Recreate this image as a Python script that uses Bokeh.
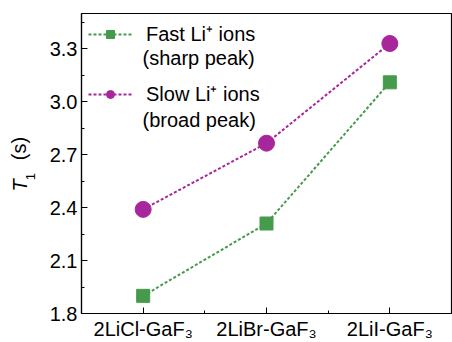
import math
from bokeh.plotting import figure
from bokeh.layouts import row
from bokeh.models import FixedTicker, Legend, LegendItem, Label, Range1d
from bokeh.core.properties import value
from bokeh.embed import file_html
from bokeh.resources import INLINE

categories = ["2LiCl-GaF\u2083", "2LiBr-GaF\u2083", "2LiI-GaF\u2083"]
fast_t1 = [1.90, 2.31, 3.11]
slow_t1 = [2.39, 2.765, 3.33]
y_ticks = [1.8, 2.1, 2.4, 2.7, 3.0, 3.3]
y_minor = [1.95, 2.25, 2.55, 2.85, 3.15, 3.45]
legend_first = ["Fast Li\u207a ions", "Slow Li\u207a ions"]
legend_second = ["(sharp peak)", "(broad peak)"]
ytitle_parts = ["T", "1", "(s)"]

GREEN = "#469a4c"
PURPLE = "#a8269c"
FONT = "Liberation Sans"
LW = 40  # width of the strip holding the y-axis title

# ---- strip with the y-axis title (T italic, subscript 1, (s)) ----
t = figure(width=LW, height=342, output_backend="svg", toolbar_location=None,
           x_range=Range1d(0, LW), y_range=Range1d(0, 342),
           x_axis_location=None, y_axis_location=None,
           min_border=0, min_border_left=0, min_border_right=0,
           min_border_top=0, min_border_bottom=0)
t.grid.visible = False
t.outline_line_color = None
t.text(x=[19], y=[146], text=[ytitle_parts[0]], angle=math.pi / 2,
       text_font=value(FONT), text_font_style=value("italic"), text_font_size=value("20px"),
       text_color="black", text_align="center", text_baseline="middle")
t.text(x=[30], y=[156], text=[ytitle_parts[1]], angle=math.pi / 2,
       text_font=value(FONT), text_font_size=value("13px"),
       text_color="black", text_align="center", text_baseline="middle")
t.text(x=[18], y=[188], text=[ytitle_parts[2]], angle=math.pi / 2,
       text_font=value(FONT), text_font_size=value("20px"),
       text_color="black", text_align="center", text_baseline="middle")

# ---- main chart ----
xs = list(range(len(categories)))

p = figure(width=452 - LW, height=342, output_backend="svg", toolbar_location=None,
           x_range=Range1d(-0.5, 2.5), y_range=Range1d(1.8, 3.5),
           min_border_left=81 - LW, min_border_top=13, min_border_bottom=29, min_border_right=1)
p.grid.visible = False
p.outline_line_color = "black"
p.outline_line_width = 1.2
p.background_fill_color = "white"
p.border_fill_color = "white"

p.xaxis.ticker = FixedTicker(ticks=xs, minor_ticks=[0.5, 1.5])
p.xaxis.major_label_overrides = {i: c for i, c in zip(xs, categories)}
p.yaxis.ticker = FixedTicker(ticks=y_ticks, minor_ticks=y_minor)
p.yaxis.major_label_overrides = {tk: f"{tk:.1f}" for tk in y_ticks}

for ax in (p.xaxis[0], p.yaxis[0]):
    ax.axis_line_color = "black"
    ax.axis_line_width = 1.2
    ax.major_tick_line_color = "black"
    ax.minor_tick_line_color = "black"
    ax.major_tick_in = 6
    ax.major_tick_out = 0
    ax.minor_tick_in = 3
    ax.minor_tick_out = 0
    ax.major_label_text_font = FONT
    ax.major_label_text_font_size = "20px"
    ax.major_label_text_color = "black"
    ax.major_label_standoff = 4

lf = p.line(xs, fast_t1, line_color=GREEN, line_width=2, line_dash="3 2")
mf = p.scatter(xs, fast_t1, marker="square", size=13, fill_color=GREEN, line_color=GREEN)
ls = p.line(xs, slow_t1, line_color=PURPLE, line_width=2, line_dash="3 2")
ms = p.scatter(xs, slow_t1, marker="circle", size=16, fill_color=PURPLE, line_color=PURPLE)

legend = Legend(items=[LegendItem(label=legend_first[0], renderers=[lf, mf]),
                       LegendItem(label=legend_first[1], renderers=[ls, ms])],
                location="top_left", margin=7, padding=0,
                border_line_color=None, background_fill_alpha=0,
                label_text_font=FONT, label_text_font_size="20px",
                label_text_color="black", label_height=24,
                label_standoff=14, glyph_width=44, glyph_height=20, spacing=33)
p.add_layout(legend)

# second lines of the legend entries (screen units relative to the frame)
for i, txt in enumerate(legend_second):
    p.add_layout(Label(x=61, y=256 - 62 * i, x_units="screen", y_units="screen",
                       text=txt, text_font=FONT, text_font_size="20px", text_color="black",
                       text_align="left", text_baseline="middle"))

open("out.html", "w").write(file_html(row(t, p, spacing=0), INLINE))
